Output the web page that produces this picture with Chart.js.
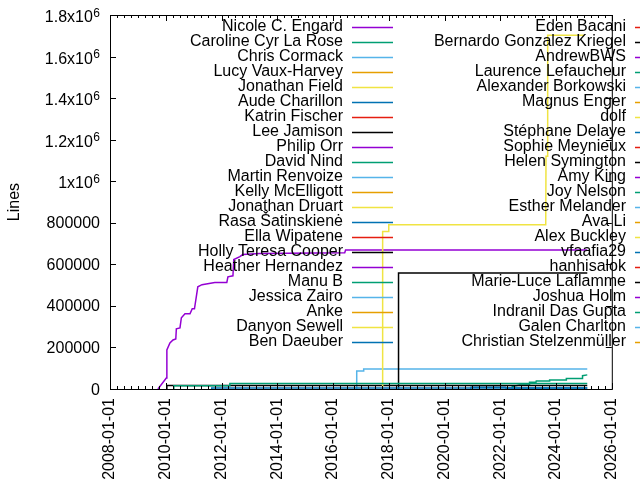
<!DOCTYPE html>
<html>
<head>
<meta charset="utf-8">
<title>Lines of code by author</title>
<script src="https://cdn.jsdelivr.net/npm/chart.js@4.4.1/dist/chart.umd.min.js"></script>
<style>
  html, body { margin: 0; padding: 0; background: #fff; }
  #wrap { width: 640px; height: 480px; }
</style>
</head>
<body>
<div id="wrap"><canvas id="authorChart" width="640" height="480"></canvas></div>
<script>
(function () {
	'use strict';

	var authors = [
		'Nicole C. Engard', 'Caroline Cyr La Rose', 'Chris Cormack', 'Lucy Vaux-Harvey',
		'Jonathan Field', 'Aude Charillon', 'Katrin Fischer', 'Lee Jamison', 'Philip Orr',
		'David Nind', 'Martin Renvoize', 'Kelly McElligott', 'Jonathan Druart',
		'Rasa Šatinskienė', 'Ella Wipatene', 'Holly Teresa Cooper', 'Heather Hernandez',
		'Manu B', 'Jessica Zairo', 'Anke', 'Danyon Sewell', 'Ben Daeuber',
		'Eden Bacani', 'Bernardo Gonzalez Kriegel', 'AndrewBWS', 'Laurence Lefaucheur',
		'Alexander Borkowski', 'Magnus Enger', 'dolf', 'Stéphane Delaye', 'Sophie Meynieux',
		'Helen Symington', 'Amy King', 'Joy Nelson', 'Esther Melander', 'Ava Li',
		'Alex Buckley', 'vfaafia29', 'hanhisalok', 'Marie-Luce Laflamme', 'Joshua Holm',
		'Indranil Das Gupta', 'Galen Charlton', 'Christian Stelzenmüller'
	];

	// gnuplot default line colours, cycled
	var palette = ['#9400d3', '#009e73', '#56b4e9', '#e69f00', '#f0e442', '#0072b2', '#e51e10', '#000000'];

	var xTickYears = [2008, 2010, 2012, 2014, 2016, 2018, 2020, 2022, 2024, 2026];
	var yTickValues = [0, 200000, 400000, 600000, 800000, 1000000, 1200000, 1400000, 1600000, 1800000];
	var yTickLabels = ['0', '200000', '400000', '600000', '800000', '1x10^6', '1.2x10^6', '1.4x10^6', '1.6x10^6', '1.8x10^6'];

	// [year, lines]
	var engardLines = [
		[2009.72, 0], [2010.02, 53000], [2010.04, 188000], [2010.15, 222000], [2010.26, 236000],
		[2010.36, 241000], [2010.38, 290000], [2010.51, 294000], [2010.56, 343000], [2010.69, 362000],
		[2010.87, 362000], [2010.95, 386000], [2011.03, 386000], [2011.15, 492000], [2011.30, 502000],
		[2011.76, 512000], [2012.19, 512000], [2012.23, 540000], [2012.41, 545000], [2012.44, 623000],
		[2012.66, 637000], [2012.76, 647000], [2013.37, 652000], [2016.42, 656000], [2016.45, 669000],
		[2025.12, 669000]
	];
	var druartLines = [
		[2017.77, 0], [2017.78, 758000], [2017.99, 758000], [2018.00, 791000], [2023.63, 791000],
		[2023.64, 1120000], [2023.69, 1120000], [2023.70, 1703000], [2025.01, 1703000]
	];
	var kriegelLines = [[2018.34, 0], [2018.35, 558000], [2025.12, 558000]];
	var cormackLines = [[2016.84, 0], [2016.85, 87000], [2017.09, 87000], [2017.10, 96500], [2025.12, 96500]];
	var nelsonLines = [[2010.28, 0], [2010.29, 16000], [2012.29, 16000], [2012.30, 26000], [2025.12, 26000]];
	var jamisonLines = [[2010.03, 0], [2010.04, 17000], [2025.12, 17000]];
	var cyrLaRoseLines = [
		[2022.42, 0], [2022.43, 12000], [2022.68, 19000], [2023.04, 19000], [2023.05, 32000],
		[2023.28, 32000], [2023.29, 38000], [2023.76, 38000], [2023.77, 43000], [2024.36, 43000],
		[2024.37, 50000], [2024.94, 50000], [2024.95, 64000], [2025.12, 68000]
	];
	var delayeLines = [[2011.64, 0], [2011.65, 5000], [2025.12, 5000]];
	var charillonLines = [[2020.94, 0], [2020.95, 9000], [2022.19, 9000], [2022.20, 5000], [2025.12, 5000]];

	var seriesByAuthor = {
		'Nicole C. Engard': engardLines,
		'Jonathan Druart': druartLines,
		'Bernardo Gonzalez Kriegel': kriegelLines,
		'Chris Cormack': cormackLines,
		'Joy Nelson': nelsonLines,
		'Lee Jamison': jamisonLines,
		'Caroline Cyr La Rose': cyrLaRoseLines,
		'Stéphane Delaye': delayeLines,
		'Aude Charillon': charillonLines
	};

	var FONT = "'Liberation Sans', Arial, sans-serif";
	Chart.defaults.font.family = FONT;
	Chart.defaults.font.size = 16;
	Chart.defaults.color = '#000';

	var datasets = authors.map(function (name, i) {
		var pts = seriesByAuthor[name] || [];
		return {
			label: name,
			data: pts.map(function (p) { return { x: p[0], y: p[1] }; }),
			borderColor: palette[i % palette.length],
			backgroundColor: palette[i % palette.length],
			borderWidth: 1.5,
			pointRadius: 0,
			fill: false,
			tension: 0,
			order: authors.length - i
		};
	});

	// border, inward ticks, y labels with superscripts, and the key
	var gnuplotLook = {
		id: 'gnuplotLook',
		afterDraw: function (chart) {
			var ctx = chart.ctx, a = chart.chartArea;
			var xs = chart.scales.x, ys = chart.scales.y;
			ctx.save();
			ctx.strokeStyle = '#000';
			ctx.lineWidth = 1;
			ctx.strokeRect(a.left + 0.5, a.top + 0.5, a.right - a.left, a.bottom - a.top);

			ctx.beginPath();
			for (var q = xTickYears[0]; q <= xTickYears[xTickYears.length - 1] + 1e-6; q += 0.25) {
				var px = Math.round(xs.getPixelForValue(q)) + 0.5;
				var len = (xTickYears.indexOf(Math.round(q * 100) / 100) >= 0) ? 6 : 3;
				ctx.moveTo(px, a.bottom); ctx.lineTo(px, a.bottom - len);
				ctx.moveTo(px, a.top); ctx.lineTo(px, a.top + len);
			}
			yTickValues.forEach(function (v) {
				var py = Math.round(ys.getPixelForValue(v)) + 0.5;
				ctx.moveTo(a.left, py); ctx.lineTo(a.left + 6, py);
				ctx.moveTo(a.right, py); ctx.lineTo(a.right - 6, py);
			});
			ctx.stroke();

			// y tick labels
			ctx.fillStyle = '#000';
			ctx.textAlign = 'right';
			ctx.textBaseline = 'alphabetic';
			yTickValues.forEach(function (v, i) {
				var py = ys.getPixelForValue(v);
				var parts = yTickLabels[i].split('^');
				var right = a.left - 10;
				if (parts.length === 2) {
					ctx.font = '12px ' + FONT;
					var sw = ctx.measureText(parts[1]).width;
					ctx.fillText(parts[1], right, py + 1.5);
					ctx.font = '16px ' + FONT;
					ctx.fillText(parts[0], right - sw - 0.5, py + 7);
				} else {
					ctx.font = '16px ' + FONT;
					ctx.fillText(parts[0], right, py + 5.5);
				}
			});

			// key: two columns, text right-aligned, sample to the right
			var perCol = Math.ceil(chart.data.datasets.length / 2);
			ctx.font = '16px ' + FONT;
			chart.data.datasets.forEach(function (ds, i) {
				var col = Math.floor(i / perCol), row = i % perCol;
				var right = 343 + col * 283;
				ctx.fillStyle = '#000';
				ctx.fillText(ds.label, right, 30.5 + row * 15);
				ctx.strokeStyle = ds.borderColor;
				ctx.lineWidth = 1.5;
				ctx.beginPath();
				ctx.moveTo(right + 9, 27.5 + row * 15);
				ctx.lineTo(right + 50, 27.5 + row * 15);
				ctx.stroke();
			});
			ctx.restore();
		}
	};

	new Chart(document.getElementById('authorChart'), {
		type: 'line',
		data: { datasets: datasets },
		options: {
			responsive: false,
			devicePixelRatio: 1,
			animation: false,
			parsing: true,
			layout: { padding: { left: 0, right: 27, top: 15, bottom: 0 } },
			plugins: {
				legend: { display: false },
				tooltip: { enabled: false }
			},
			scales: {
				x: {
					type: 'linear',
					min: 2008,
					max: 2026,
					afterBuildTicks: function (scale) {
						scale.ticks = xTickYears.map(function (v) { return { value: v }; });
					},
					afterFit: function (scale) { scale.height = 91; },
					ticks: {
						autoSkip: false,
						minRotation: 90,
						maxRotation: 90,
						padding: 9,
						font: { size: 16 },
						callback: function (v) { return v + '-01-01'; }
					},
					grid: { display: false, drawTicks: false },
					border: { display: false }
				},
				y: {
					type: 'linear',
					min: 0,
					max: 1800000,
					afterBuildTicks: function (scale) {
						scale.ticks = yTickValues.map(function (v) { return { value: v }; });
					},
					afterFit: function (scale) { scale.width = 110; },
					ticks: { display: false },
					grid: { display: false, drawTicks: false },
					border: { display: false },
					title: {
						display: true,
						text: 'Lines',
						font: { size: 16 },
						padding: { top: 5, bottom: 0 }
					}
				}
			}
		},
		plugins: [gnuplotLook]
	});
})();
</script>
</body>
</html>
